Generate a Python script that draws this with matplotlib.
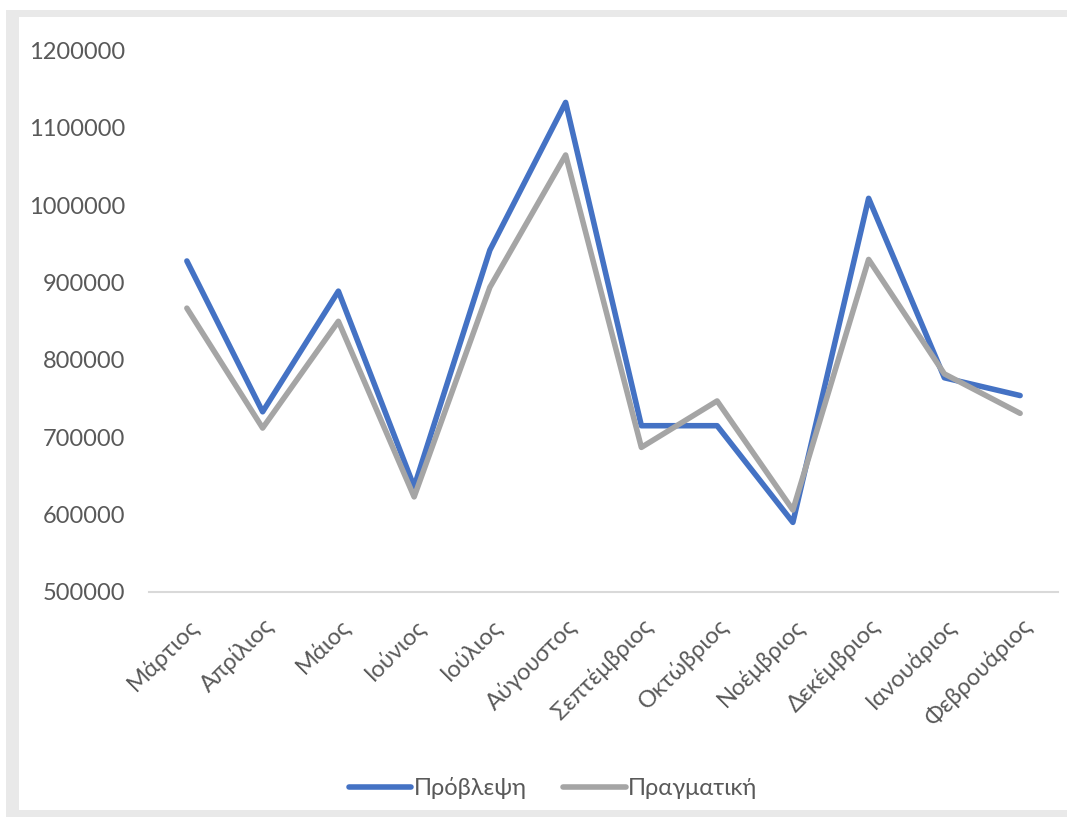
import matplotlib
matplotlib.use("Agg")
import matplotlib.pyplot as plt
from matplotlib.patches import Rectangle
from matplotlib.transforms import ScaledTranslation

months = ["Μάρτιος", "Απρίλιος", "Μάιος", "Ιούνιος", "Ιούλιος", "Αύγουστος",
          "Σεπτέμβριος", "Οκτώβριος", "Νοέμβριος", "Δεκέμβριος", "Ιανουάριος", "Φεβρουάριος"]
forecast = [928000, 733000, 889000, 636000, 942000, 1133000,
            715000, 715000, 590000, 1009000, 777000, 754000]
actual = [867000, 712000, 850000, 623000, 894000, 1065000,
          687000, 747000, 606000, 930000, 782000, 731000]
yticks = [500000, 600000, 700000, 800000, 900000, 1000000, 1100000, 1200000]
series_names = ["Πρόβλεψη", "Πραγματική"]

plt.rcParams['font.family'] = ['Lato', 'Open Sans', 'Noto Sans', 'DejaVu Sans']
TXT = "#595959"
FS = 17

W, H = 1067, 817
fig = plt.figure(figsize=(W / 100, H / 100), dpi=100, facecolor="white")

# chart frame
fig.patches.append(Rectangle((6 / W, 0), 1, 1 - 10 / H, transform=fig.transFigure,
                             facecolor="#E9E9E9", edgecolor="none", zorder=-2))
fig.patches.append(Rectangle((19 / W, 7 / H), 1, 1 - 17 / H - 7 / H, transform=fig.transFigure,
                             facecolor="white", edgecolor="none", zorder=-1))

ax = fig.add_axes([149 / W, 1 - 592 / H, (1058 - 149) / W, (592 - 50.6) / H])
ax.set_facecolor("none")
ax.set_zorder(1)
x = list(range(len(months)))
ax.plot(x, forecast, color="#4472C4", lw=4, solid_capstyle="round",
        solid_joinstyle="round", label=series_names[0], zorder=3)
ax.plot(x, actual, color="#A5A5A5", lw=4, solid_capstyle="round",
        solid_joinstyle="round", label=series_names[1], zorder=4)

ax.set_xlim(-0.5, len(months) - 0.5)
ax.set_ylim(500000, 1200000)
ax.set_yticks(yticks)
ax.set_yticklabels([str(v) for v in yticks])
ax.set_xticks(x)
ax.set_xticklabels(months, rotation=45, ha="right", va="center", rotation_mode="anchor")

for s in ["top", "right", "left"]:
    ax.spines[s].set_visible(False)
ax.spines["bottom"].set_color("#D9D9D9")
ax.spines["bottom"].set_linewidth(1.5)
ax.tick_params(axis="y", length=0, pad=17, labelsize=FS, labelcolor=TXT)
ax.tick_params(axis="x", length=0, pad=22, labelsize=FS, labelcolor=TXT)
offset = ScaledTranslation(8 / 100, 0, fig.dpi_scale_trans)
for lbl in ax.get_xticklabels():
    lbl.set_transform(lbl.get_transform() + offset)

fig.legend(loc="center", bbox_to_anchor=(553 / W, 1 - 788 / H), ncol=2, frameon=False,
           fontsize=FS, labelcolor=TXT, handlelength=2.65, handletextpad=0.1,
           columnspacing=1.55)

fig.savefig("out.png", dpi=100, facecolor="white")
